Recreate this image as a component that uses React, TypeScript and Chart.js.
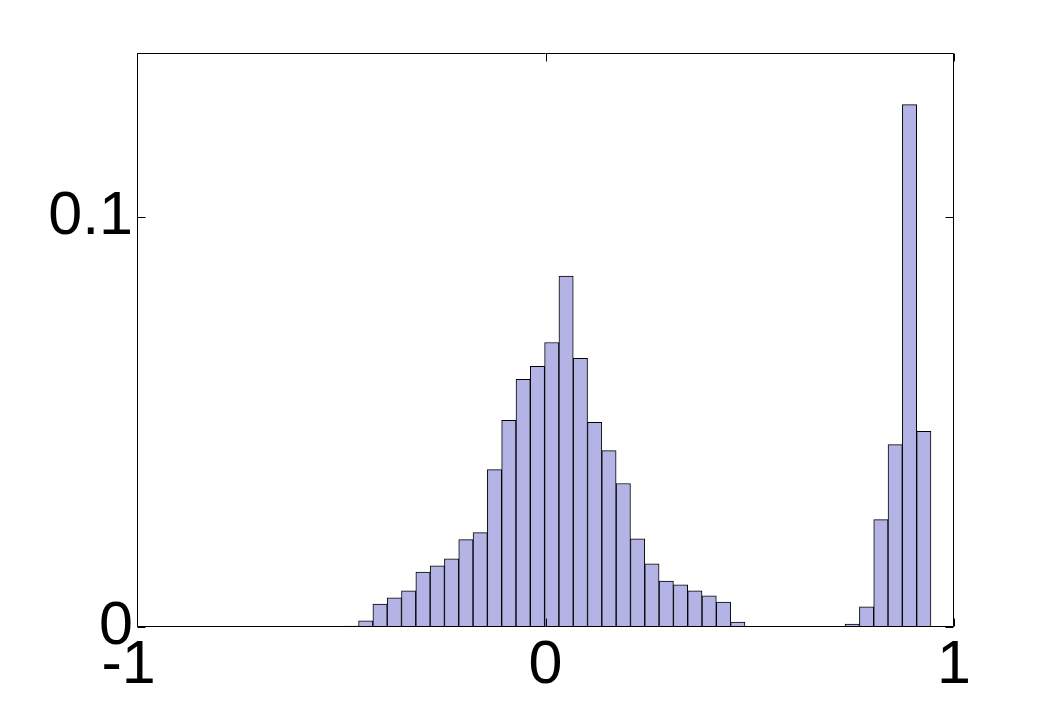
import React, { useEffect, useRef } from "react";
import { Chart, registerables } from "chart.js";

Chart.register(...registerables);

// Histogram bin centers (x) and bin heights (relative frequency)
const binCenters = [
  -0.4751, -0.4401, -0.405, -0.37, -0.335, -0.2999, -0.2649, -0.2299, -0.1949, -0.1598,
  -0.1248, -0.0898, -0.0547, -0.0197, 0.0153, 0.0504, 0.0854, 0.1204, 0.1554, 0.1905,
  0.2255, 0.2605, 0.2956, 0.3306, 0.3656, 0.4007, 0.4357, 0.4707, 0.5057, 0.5408,
  0.5758, 0.6108, 0.6459, 0.6809, 0.7159, 0.751, 0.786, 0.821, 0.856, 0.8911, 0.9261,
];
const binValues = [
  0.0002, 0.0015, 0.0056, 0.0071, 0.0088, 0.0134, 0.0149, 0.0166, 0.0213, 0.023,
  0.0384, 0.0504, 0.0604, 0.0636, 0.0694, 0.0856, 0.0655, 0.0499, 0.043, 0.035,
  0.0215, 0.0154, 0.0112, 0.0103, 0.0088, 0.0076, 0.0061, 0.0012, 0, 0,
  0, 0, 0, 0, 0, 0.0007, 0.0049, 0.0262, 0.0445, 0.1274, 0.0477,
];

const xTicks = [-1, 0, 1];
const xTickLabels = ["-1 ", "0", "1"];
const yTicks = [0, 0.1];
const yTickLabels = ["0", "0.1"];

const FONT = { family: '"Liberation Sans", Arial, Helvetica, sans-serif', size: 61 };

const boxPlugin = {
  id: "matlabBox",
  afterDatasetsDraw(chart: any) {
    const { ctx, chartArea, scales } = chart;
    const { left, right, top, bottom } = chartArea;
    const L = Math.round(left) + 0.5;
    const R = Math.round(right) - 0.5;
    const T = Math.round(top) + 0.5;
    const B = Math.round(bottom) - 0.5;
    const tl = 8;
    ctx.save();
    ctx.strokeStyle = "#000";
    ctx.lineWidth = 1;
    ctx.beginPath();
    ctx.rect(L, T, R - L, B - T);
    xTicks.forEach((v) => {
      const px = Math.round(scales.x.getPixelForValue(v)) + 0.5;
      ctx.moveTo(px, B);
      ctx.lineTo(px, B - tl);
      ctx.moveTo(px, T);
      ctx.lineTo(px, T + tl);
    });
    yTicks.forEach((v) => {
      const py = Math.round(scales.y.getPixelForValue(v)) + 0.5;
      ctx.moveTo(L, py);
      ctx.lineTo(L + tl, py);
      ctx.moveTo(R, py);
      ctx.lineTo(R - tl, py);
    });
    ctx.stroke();
    ctx.restore();
  },
};

export default function App() {
  const ref = useRef<HTMLCanvasElement | null>(null);

  useEffect(() => {
    document.body.style.margin = "0";
    if (!ref.current) return;
    const chart = new Chart(ref.current, {
      type: "bar",
      data: {
        datasets: [
          {
            data: binCenters.map((x, i) => ({ x, y: binValues[i] })),
            backgroundColor: "rgb(179,179,230)",
            borderColor: "#000",
            borderWidth: 1,
            borderSkipped: "start",
            barPercentage: 1,
            categoryPercentage: 1,
          },
        ],
      },
      options: {
        animation: false,
        responsive: false,
        maintainAspectRatio: false,
        events: [],
        layout: { padding: { left: 0, right: 100, top: 53, bottom: 0 } },
        plugins: { legend: { display: false }, tooltip: { enabled: false } },
        scales: {
          x: {
            type: "linear",
            offset: false,
            min: -1,
            max: 1,
            grid: { display: false, drawTicks: false },
            border: { display: false },
            afterBuildTicks: (s: any) => {
              s.ticks = xTicks.map((value) => ({ value }));
            },
            afterFit: (s: any) => {
              s.height = 77;
            },
            ticks: {
              autoSkip: false,
              maxRotation: 0,
              padding: 3,
              color: "#000",
              font: FONT,
              callback: (_v: any, i: number) => xTickLabels[i],
            },
          },
          y: {
            type: "linear",
            min: 0,
            max: 0.14,
            grid: { display: false, drawTicks: false },
            border: { display: false },
            afterBuildTicks: (s: any) => {
              s.ticks = yTicks.map((value) => ({ value }));
            },
            afterFit: (s: any) => {
              s.width = 137;
            },
            ticks: {
              autoSkip: false,
              padding: 4,
              color: "#000",
              font: FONT,
              callback: (_v: any, i: number) => yTickLabels[i],
            },
          },
        },
      },
      plugins: [boxPlugin],
    });
    return () => chart.destroy();
  }, []);

  return (
    <div style={{ width: 1054, height: 704, background: "#fff" }}>
      <canvas ref={ref} width={1054} height={704} style={{ display: "block" }} />
    </div>
  );
}
